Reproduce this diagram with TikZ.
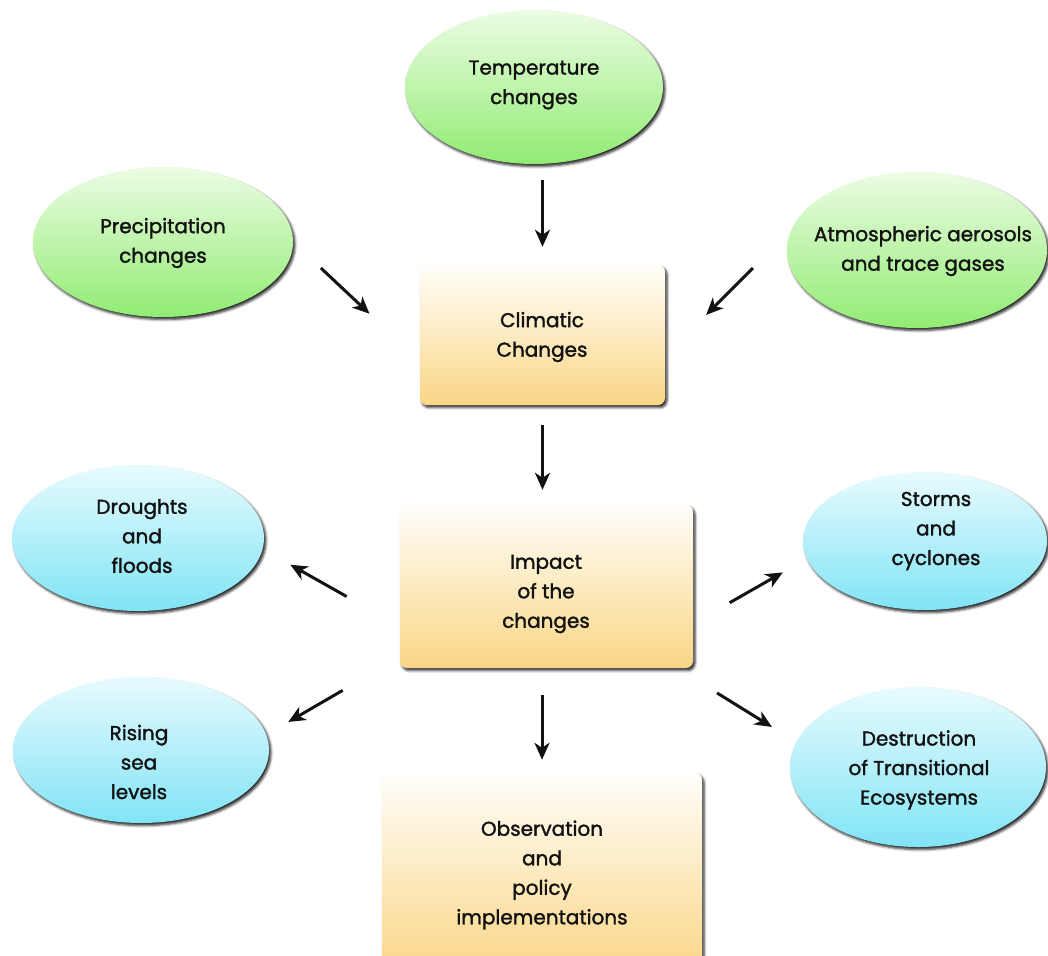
\documentclass[tikz,border=0pt]{standalone}
\usepackage{fontspec}
\setmainfont{Poppins}[FakeBold=1.6]
\usetikzlibrary{shapes.geometric,arrows.meta,shadows.blur,calc}
\definecolor{gtop}{RGB}{236,252,228}
\definecolor{gbot}{RGB}{145,236,115}
\definecolor{btop}{RGB}{232,251,254}
\definecolor{bbot}{RGB}{128,228,245}
\definecolor{otop}{RGB}{255,254,250}
\definecolor{obot}{RGB}{250,214,134}
\definecolor{ink}{RGB}{18,18,18}
\begin{document}
\begin{tikzpicture}[x=1pt,y=-1pt,
  shad/.style={blur shadow={shadow xshift=2pt,shadow yshift=-2.5pt,shadow blur radius=2.5pt,shadow opacity=85}},
  ell/.style={ellipse,draw=none,inner sep=0pt,shad},
  greenell/.style={ell,top color=gtop,bottom color=gbot},
  blueell/.style={ell,top color=btop,bottom color=bbot},
  orbox/.style={rectangle,rounded corners=7pt,draw=none,inner sep=0pt,top color=otop,bottom color=obot,shad},
  txt/.style={align=center,inner sep=0pt,text=ink,font=\fontsize{20}{29.5}\selectfont},
  arr/.style={-{Stealth[length=17pt,width=15pt,inset=5pt]},line width=3pt,ink}]
\useasboundingbox (0,0) rectangle (1048,955);
\begin{scope}
\clip (0,0) rectangle (1048,955);
% ellipses
\node[greenell,minimum width=258pt,minimum height=154pt] (temp) at (534,87) {};
\node[greenell,minimum width=260pt,minimum height=150pt] (precip) at (163,242) {};
\node[greenell,minimum width=260pt,minimum height=156pt] (atmos) at (917,250) {};
\node[blueell,minimum width=252pt,minimum height=146pt] (drought) at (138,538) {};
\node[blueell,minimum width=256pt,minimum height=146pt] (rising) at (141,750) {};
\node[blueell,minimum width=244pt,minimum height=138pt] (storms) at (925,541) {};
\node[blueell,minimum width=256pt,minimum height=160pt] (destr) at (918,767) {};
% boxes
\node[orbox,minimum width=245pt,minimum height=140pt] (clim) at (542.5,335) {};
\node[orbox,minimum width=293pt,minimum height=163pt] (impact) at (546.5,586.5) {};
\node[orbox,minimum width=320pt,minimum height=200pt] (obs) at (542,873) {};
% texts
\node[txt] (tempT) at (534,85) {Temperature\\changes};
\node[txt] (precipT) at (163,243) {Precipitation\\changes};
\node[txt] (atmosT) at (923,251) {Atmospheric aerosols\\and trace gases};
\node[txt] (droughtT) at (142,536) {Droughts\\and\\floods};
\node[txt] (risingT) at (139,762) {Rising\\sea\\levels};
\node[txt] (stormsT) at (936,531) {Storms\\and\\cyclones};
\node[txt] (destrT) at (919,770) {Destruction\\of Transitional\\Ecosystems};
\node[txt] (climT) at (542,337) {Climatic\\Changes};
\node[txt] (impactT) at (546,594) {Impact\\of the\\changes};
\node[txt] (obsT) at (542,875) {Observation\\and\\policy\\implementations};
\end{scope}
% arrows
\draw[arr,shorten <=16pt,shorten >=18pt] (temp.south -| clim.north) -- (clim.north);
\draw[arr,shorten <=38pt,shorten >=69pt] (precip.east) -- ([yshift=-26pt]clim.west);
\draw[arr,shorten <=48pt,shorten >=58pt] ([yshift=16pt]atmos.west) -- ([yshift=-21pt]clim.east);
\draw[arr,shorten <=20pt,shorten >=15pt] (clim.south) -- (clim.south |- impact.north);
\draw[arr,shorten <=61pt,shorten >=30pt] ([yshift=-40pt]impact.west) -- ([yshift=-12pt]drought.east);
\draw[arr,shorten <=66pt,shorten >=22pt] ([yshift=11pt]impact.south west) -- ([yshift=17pt]rising.east);
\draw[arr,shorten <=42pt,shorten >=23pt] ([yshift=-37pt]impact.east) -- ([yshift=-20pt]storms.west);
\draw[arr,shorten <=28pt,shorten >=21pt] ([yshift=-10pt]impact.south east) -- ([yshift=29pt]destr.west);
\draw[arr,shorten <=27pt,shorten >=13pt] (impact.south -| obs.north) -- (obs.north);
\end{tikzpicture}
\end{document}
